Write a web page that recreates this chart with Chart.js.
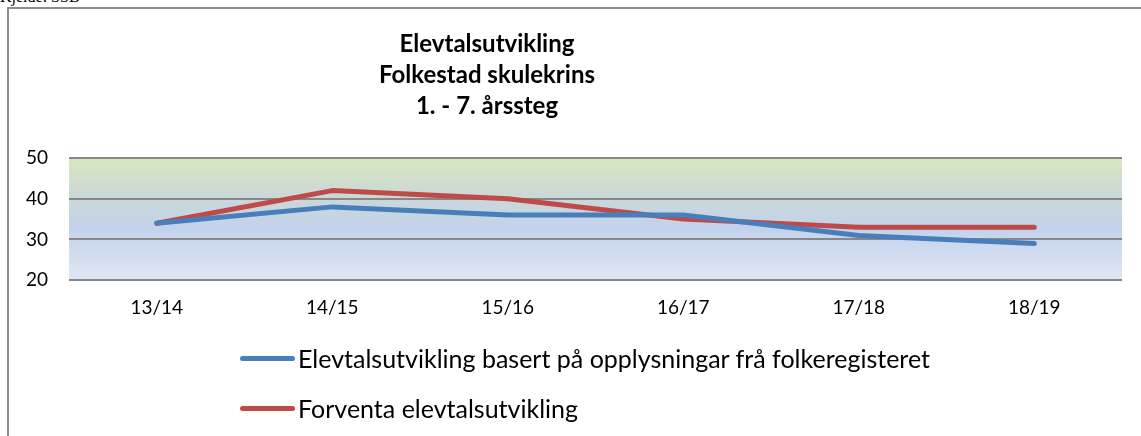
<!DOCTYPE html>
<html>
<head>
<meta charset="utf-8">
<script src="https://cdn.jsdelivr.net/npm/chart.js@4/dist/chart.umd.min.js"></script>
<style>
  html, body { margin: 0; padding: 0; background: #fff; overflow: hidden; }
  body { width: 1141px; height: 436px; position: relative; font-family: Lato, "Open Sans", sans-serif; }
  #source { position: absolute; left: 0; top: -12px; font: 16px "Liberation Serif", serif; color: #000; }
  #frame { position: absolute; left: 7px; top: 7px; width: 1300px; height: 600px;
           border-top: 2px solid #8c8c8c; border-left: 2px solid #8c8c8c; box-sizing: border-box; }
  #wrap { position: absolute; left: 0; top: 0; width: 1141px; height: 345px; }
  #title { position: absolute; left: 237px; width: 500px; top: 27px; text-align: center;
           font: bold 24px Lato, sans-serif; line-height: 31px; color: #000; }
  #legend { position: absolute; left: 240px; top: 333px; }
  .li { display: flex; align-items: center; height: 50px; font-size: 25px; color: #000; }
  .sw { width: 55px; height: 5px; border-radius: 3px; margin-right: 3px; }
</style>
</head>
<body>
<div id="source">Kjelde: SSB</div>
<div id="frame"></div>
<div id="wrap"><canvas id="c"></canvas></div>
<div id="title">Elevtalsutvikling<br>Folkestad skulekrins<br>1. - 7. årssteg</div>
<div id="legend"></div>
<script>
const categories = ["13/14", "14/15", "15/16", "16/17", "17/18", "18/19"];
const seriesNames = ["Elevtalsutvikling basert på opplysningar frå folkeregisteret", "Forventa elevtalsutvikling"];
const folkeregisteret = [34, 38, 36, 36, 31, 29];
const forventa = [34, 42, 40, 35, 33, 33];
const seriesColors = ["#4a7ebb", "#be4b48"];
const yTicks = [20, 30, 40, 50];

const bgPlugin = {
  id: 'bg',
  beforeDraw(chart) {
    const a = chart.chartArea, ctx = chart.ctx;
    const g = ctx.createLinearGradient(0, a.top, 0, a.bottom);
    g.addColorStop(0, '#d8e5bd');
    g.addColorStop(0.33, '#cad8d9');
    g.addColorStop(0.58, '#c3d2ec');
    g.addColorStop(1, '#dfe7f5');
    ctx.save();
    ctx.fillStyle = g;
    ctx.fillRect(a.left, a.top, a.right - a.left, a.bottom - a.top);
    ctx.restore();
  }
};

const chart = new Chart(document.getElementById('c'), {
  type: 'line',
  data: {
    labels: categories,
    datasets: [
      { label: seriesNames[0], data: folkeregisteret, borderColor: seriesColors[0], backgroundColor: seriesColors[0],
        borderWidth: 5, pointRadius: 0, tension: 0, borderCapStyle: 'round', borderJoinStyle: 'round' },
      { label: seriesNames[1], data: forventa, borderColor: seriesColors[1], backgroundColor: seriesColors[1],
        borderWidth: 5, pointRadius: 0, tension: 0, borderCapStyle: 'round', borderJoinStyle: 'round' }
    ]
  },
  options: {
    responsive: true,
    maintainAspectRatio: false,
    animation: false,
    events: [],
    layout: { padding: { top: 158, right: 19, bottom: 10, left: 5 } },
    plugins: { legend: { display: false }, title: { display: false }, tooltip: { enabled: false } },
    scales: {
      x: {
        offset: true,
        grid: { display: false, drawTicks: false },
        border: { display: false },
        ticks: { color: '#000', font: { family: 'Lato', size: 19 }, padding: 16, maxRotation: 0 }
      },
      y: {
        min: 20, max: 50,
        afterBuildTicks(axis) { axis.ticks = yTicks.map(v => ({ value: v })); },
        grid: { color: '#878787', lineWidth: 2, drawTicks: false },
        border: { display: false },
        ticks: { color: '#000', font: { family: 'Lato', size: 19 }, padding: 21 }
      }
    }
  },
  plugins: [bgPlugin]
});

const legend = document.getElementById('legend');
chart.data.datasets.forEach(ds => {
  const row = document.createElement('div');
  row.className = 'li';
  const sw = document.createElement('span');
  sw.className = 'sw';
  sw.style.background = ds.borderColor;
  const tx = document.createElement('span');
  tx.textContent = ds.label;
  row.appendChild(sw); row.appendChild(tx);
  legend.appendChild(row);
});
</script>
</body>
</html>
